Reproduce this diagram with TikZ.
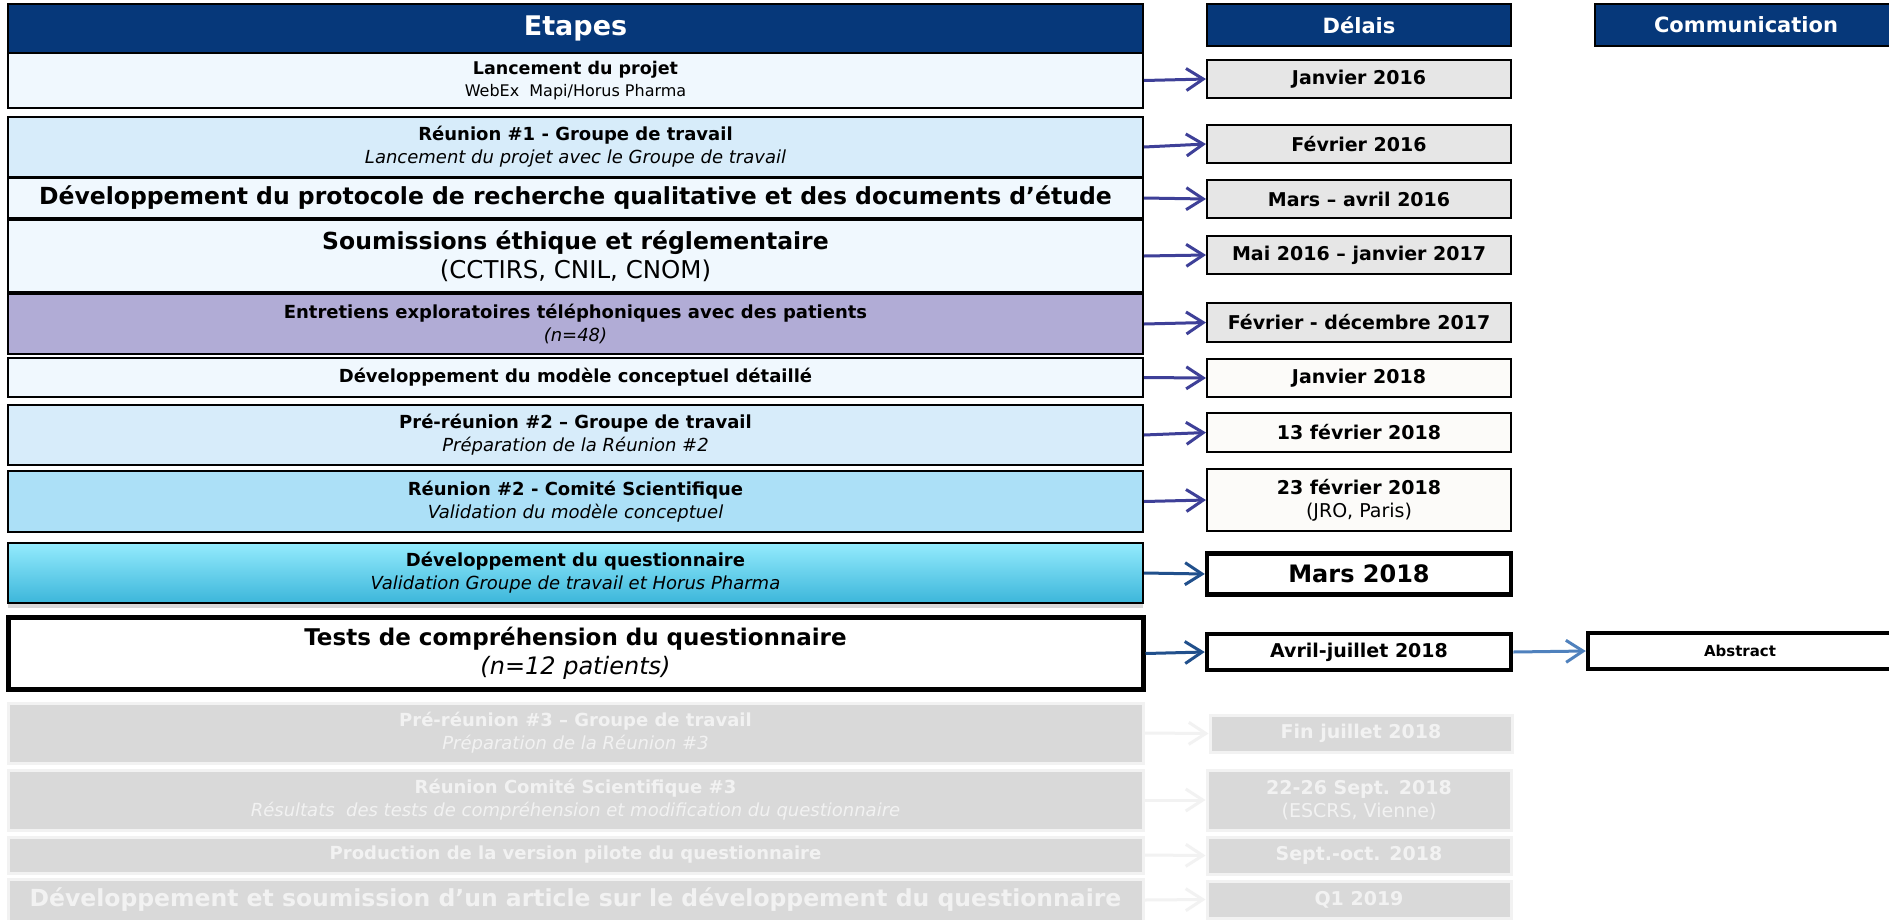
\documentclass[tikz,border=0pt]{standalone}
\usepackage{fontspec}
\setmainfont{DejaVu Sans}
\usetikzlibrary{arrows.meta,shadows}

\definecolor{navy}{RGB}{6,56,122}
\definecolor{pale}{RGB}{240,248,254}
\definecolor{sky}{RGB}{215,236,250}
\definecolor{bluish}{RGB}{172,224,247}
\definecolor{lavender}{RGB}{177,172,214}
\definecolor{cyantop}{RGB}{148,235,253}
\definecolor{cyanbot}{RGB}{60,182,218}
\definecolor{datebg}{RGB}{230,230,230}
\definecolor{offwhite}{RGB}{252,251,249}
\definecolor{faded}{RGB}{217,217,217}
\definecolor{fadedline}{RGB}{242,242,242}
\definecolor{indigo}{RGB}{62,64,152}
\definecolor{deepblue}{RGB}{33,80,140}
\definecolor{steel}{RGB}{79,129,189}

\newcommand\fsz[2]{\fontsize{#1}{#2}\selectfont}

\tikzset{
  headbox/.style={draw=black, line width=1.5pt, fill=navy, text=white, inner sep=0pt},
  stage/.style={draw=black, line width=2pt, minimum width=1135pt, inner sep=0pt, align=center, font=\fsz{18}{23}},
  datebox/.style={draw=black, line width=2pt, minimum width=304pt, inner sep=0pt, align=center, font=\fsz{19}{23}\bfseries},
  ghost/.style={draw=fadedline, line width=3pt, fill=faded, text=fadedline},
  link/.style={line width=3pt, -{Straight Barb[length=17pt,width=22pt]}},
}

\begin{document}
\begin{tikzpicture}[x=1pt, y=-1pt]
	\clip (0,0) rectangle (1889,919);
	\fill[white] (0,0) rectangle (1889,919);

	\node[headbox, minimum width=1135pt, minimum height=49pt, font=\fsz{27}{32}\bfseries] (etapes) at (575.5,28.5) {Etapes};
	\node[headbox, minimum width=304pt, minimum height=42pt, font=\fsz{21}{25}\bfseries] (delais) at (1359,25) {Délais};
	\node[headbox, minimum width=302pt, minimum height=42pt, font=\fsz{21}{25}\bfseries] (comm) at (1746,25) {Communication};

	\node[stage, fill=pale, minimum height=55pt, font=\fsz{17.5}{22}] (s1) at (575.5,80.5) {{\bfseries Lancement du projet}\\{\fsz{16}{22}WebEx\ \ Mapi/Horus Pharma}};
	\node[stage, fill=sky, minimum height=60pt] (s2) at (575.5,147) {{\bfseries Réunion \#1 - Groupe de travail}\\{\itshape Lancement du projet avec le Groupe de travail}};
	\node[stage, fill=pale, minimum height=40pt, font=\fsz{23.5}{28}\bfseries] (s3) at (575.5,198) {Développement du protocole de recherche qualitative et des documents d’étude};
	\node[stage, fill=pale, minimum height=72pt, font=\fsz{23.5}{29}] (s4) at (575.5,256) {{\bfseries Soumissions éthique et réglementaire}\\{\fsz{24.5}{29}(CCTIRS, CNIL, CNOM)}};
	\node[stage, fill=lavender, minimum height=60pt] (s5) at (575.5,324) {{\bfseries Entretiens exploratoires téléphoniques avec des patients}\\{\itshape (n=48)}};
	\node[stage, fill=pale, minimum height=39pt, font=\fsz{18}{23}\bfseries] (s6) at (575.5,377.5) {Développement du modèle conceptuel détaillé};
	\node[stage, fill=sky, minimum height=60pt] (s7) at (575.5,435) {{\bfseries Pré-réunion \#2 – Groupe de travail}\\{\itshape Préparation de la Réunion \#2}};
	\node[stage, fill=bluish, minimum height=61pt] (s8) at (575.5,501.5) {{\bfseries Réunion \#2 - Comité Scientifique}\\{\itshape Validation du modèle conceptuel}};
	\node[stage, top color=cyantop, bottom color=cyanbot, minimum height=60pt,
	      drop shadow={opacity=0.3, shadow xshift=0pt, shadow yshift=-5pt}] (s9) at (575.5,573) {{\bfseries Développement du questionnaire}\\{\itshape Validation Groupe de travail et Horus Pharma}};
	\node[stage, fill=white, line width=5pt, minimum height=72pt, font=\fsz{23}{29}] (s10) at (575.5,653.5) {{\bfseries Tests de compréhension du questionnaire}\\{\itshape\fsz{24}{29}(n=12 patients)}};
	\node[stage, ghost, minimum height=60pt] (s11) at (575.5,733) {{\bfseries Pré-réunion \#3 – Groupe de travail}\\{\itshape Préparation de la Réunion \#3}};
	\node[stage, ghost, minimum height=60pt] (s12) at (575.5,800) {{\bfseries Réunion Comité Scientifique \#3}\\{\itshape Résultats\ \ des tests de compréhension et modification du questionnaire}};
	\node[stage, ghost, minimum height=36pt, font=\fsz{18}{23}\bfseries] (s13) at (575.5,855) {Production de la version pilote du questionnaire};
	\node[stage, ghost, minimum height=42pt, font=\fsz{23.5}{28}\bfseries] (s14) at (575.5,900) {Développement et soumission d’un article sur le développement du questionnaire};

	\node[datebox, fill=datebg, minimum height=38pt] (d1) at (1359,79) {Janvier 2016};
	\node[datebox, fill=datebg, minimum height=38pt] (d2) at (1359,144) {Février 2016};
	\node[datebox, fill=datebg, minimum height=38pt] (d3) at (1359,199) {Mars – avril 2016};
	\node[datebox, fill=datebg, minimum height=38pt] (d4) at (1359,255) {Mai 2016 – janvier 2017};
	\node[datebox, fill=datebg, minimum height=39pt] (d5) at (1359,322.5) {Février - décembre 2017};
	\node[datebox, fill=offwhite, minimum height=38pt] (d6) at (1359,378) {Janvier 2018};
	\node[datebox, fill=offwhite, minimum height=39pt] (d7) at (1359,432.5) {13 février 2018};
	\node[datebox, fill=offwhite, minimum height=62pt] (d8) at (1359,500) {23 février 2018\\{\mdseries (JRO, Paris)}};
	\node[datebox, fill=white, line width=4.5pt, minimum height=41pt, font=\fsz{24}{28}\bfseries] (d9) at (1359,574) {Mars 2018};
	\node[datebox, fill=white, line width=4.5pt, minimum height=36pt] (d10) at (1359,652) {Avril-juillet 2018};
	\node[datebox, ghost, minimum width=302pt, minimum height=37pt] (d11) at (1361,733.5) {Fin juillet 2018};
	\node[datebox, ghost, minimum height=60pt] (d12) at (1359,800) {22-26 Sept. 2018\\{\mdseries (ESCRS, Vienne)}};
	\node[datebox, ghost, minimum height=37pt] (d13) at (1359,855.5) {Sept.-oct. 2018};
	\node[datebox, ghost, minimum height=37pt] (d14) at (1359,899.5) {Q1 2019};

	\node[datebox, fill=white, line width=4.5pt, minimum height=36pt, font=\fsz{15}{18}\bfseries] (abstract) at (1740,651) {Abstract};

	\foreach \i in {1,...,8}
	{ \draw[link, indigo] (s\i.east) -- (d\i.west); }
	\foreach \i in {9,10}
	{ \draw[link, deepblue] (s\i.east) -- (d\i.west); }
	\foreach \i in {11,...,14}
	{ \draw[link, fadedline] (s\i.east) -- (d\i.west); }
	\draw[link, steel] (d10.east) -- (abstract.west);
\end{tikzpicture}
\end{document}
